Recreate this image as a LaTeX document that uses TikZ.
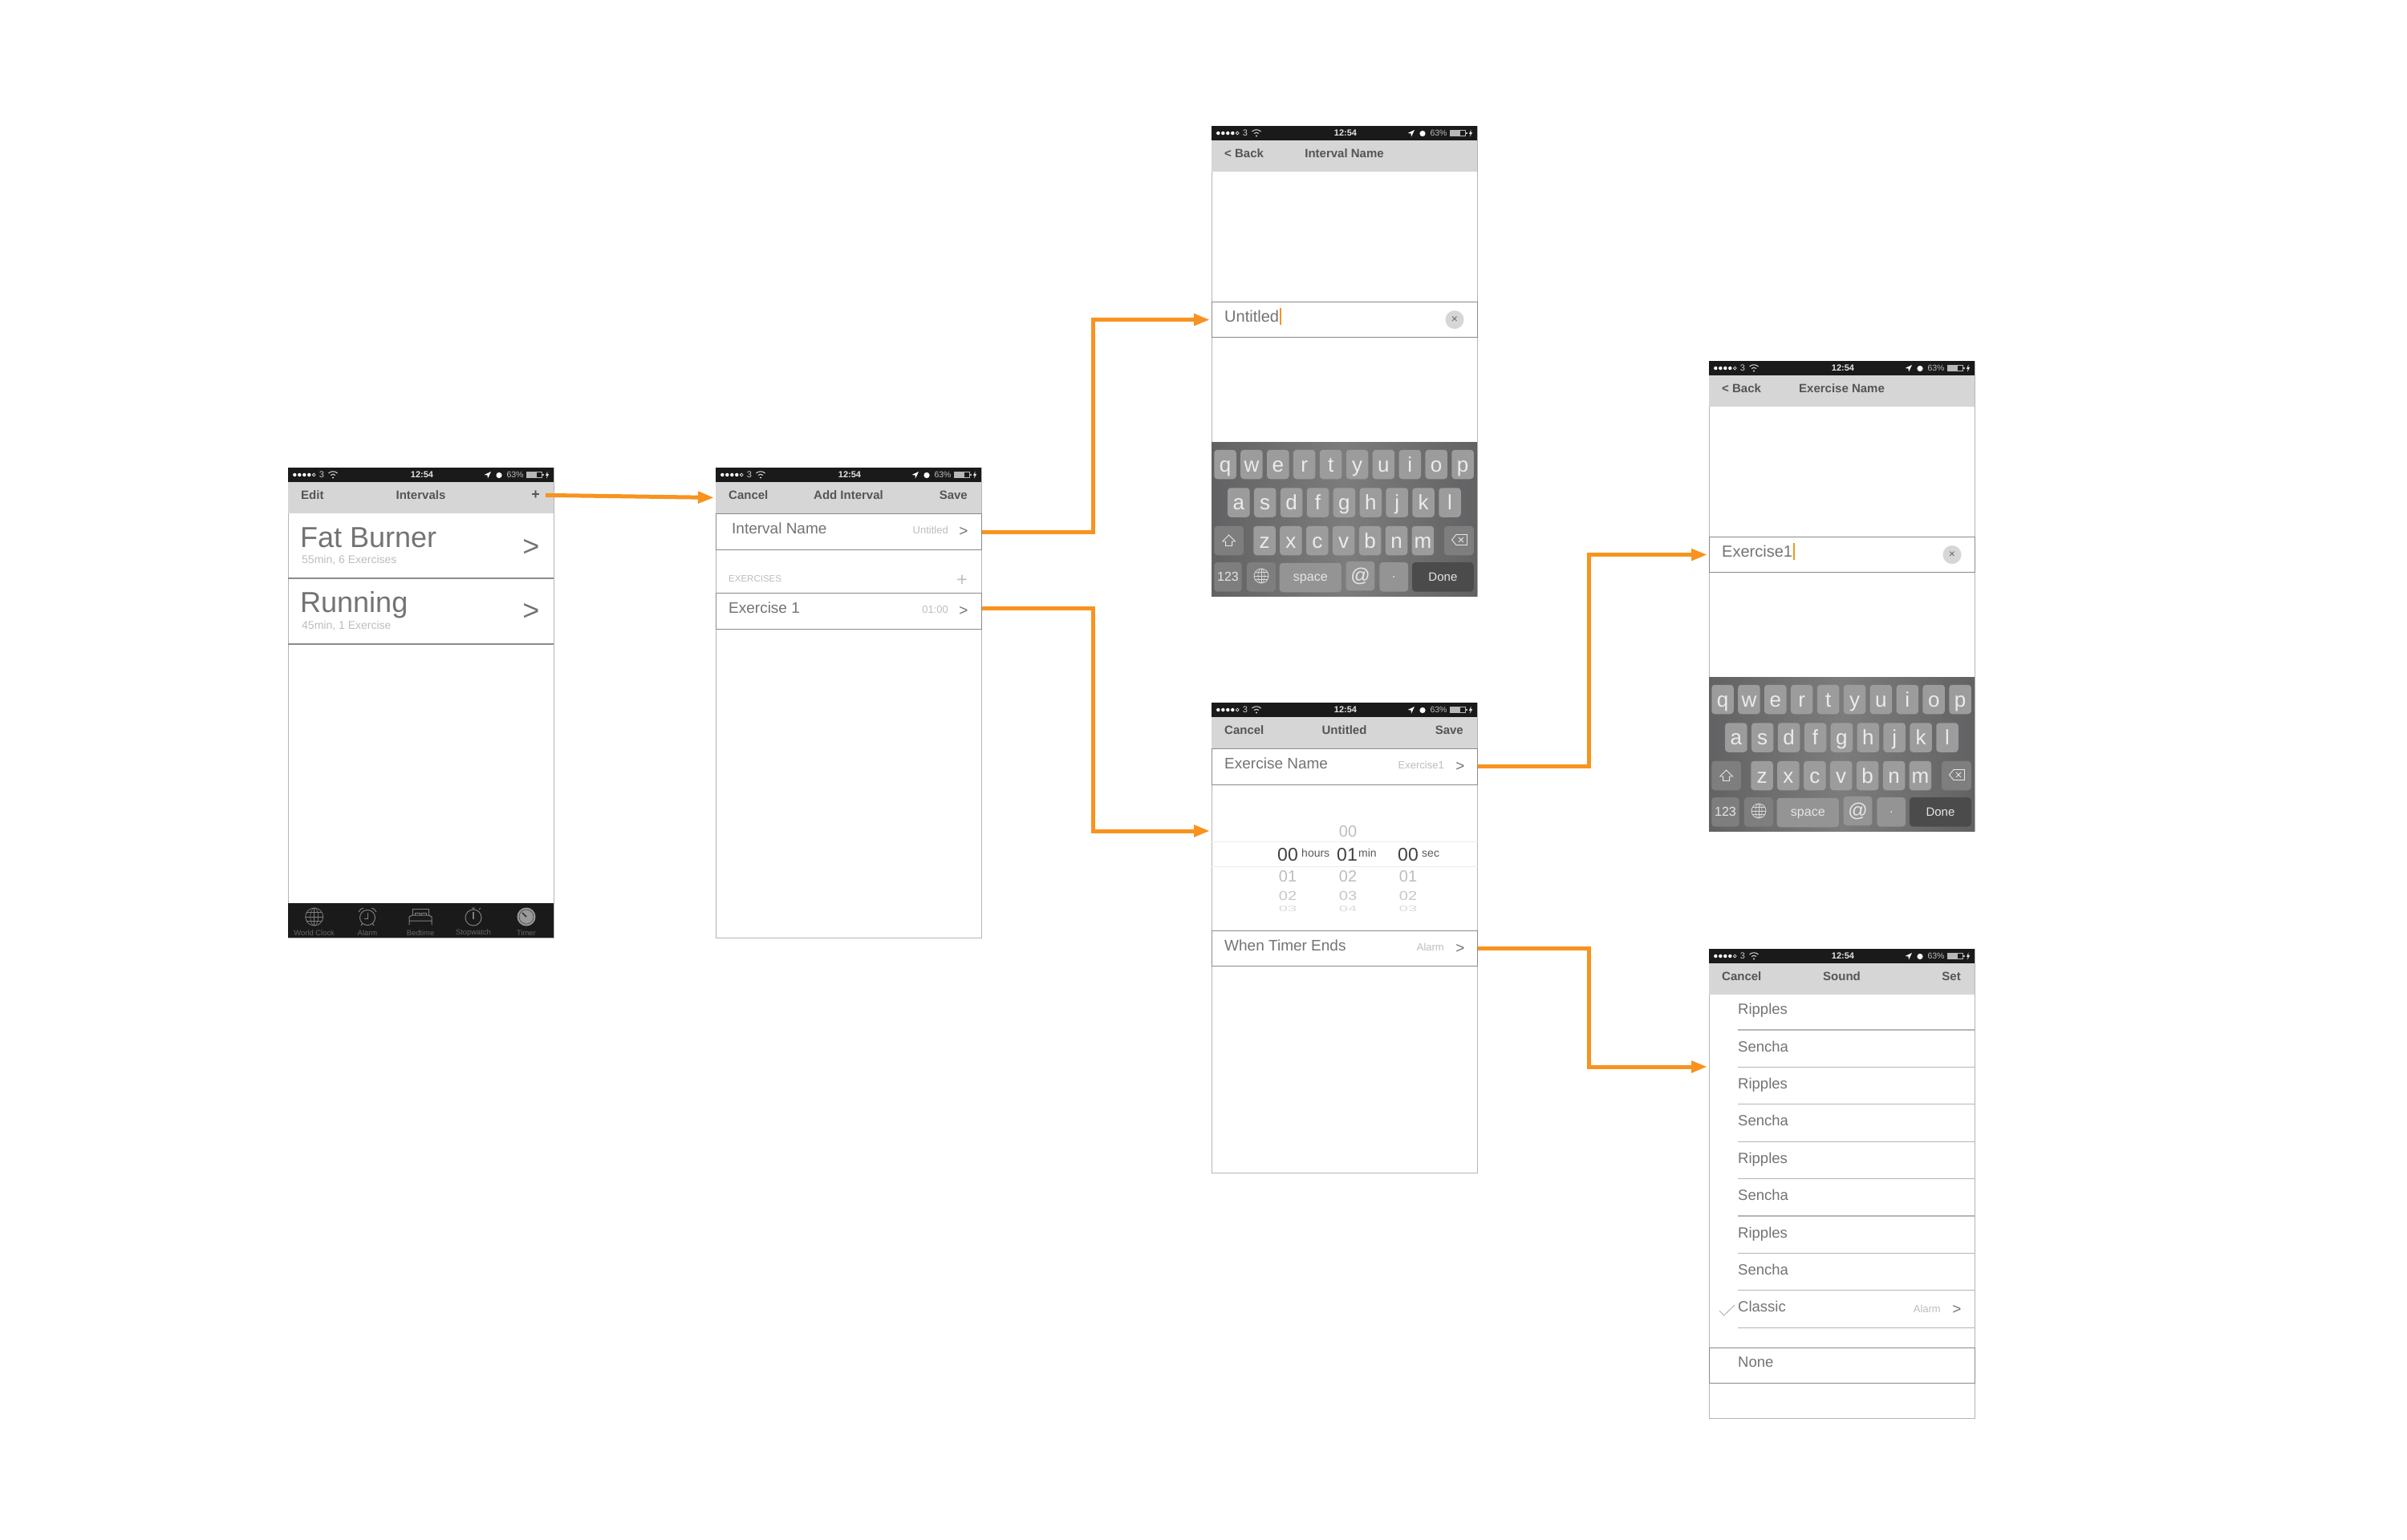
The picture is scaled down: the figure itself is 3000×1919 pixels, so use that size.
\documentclass[tikz,border=0pt]{standalone}
\usepackage{fontspec}
\setmainfont{Liberation Sans}
\usetikzlibrary{arrows.meta,
                positioning
            }

\definecolor{flow}{HTML}{F7931E}
\definecolor{barblack}{HTML}{1A1A1A}
\definecolor{navgray}{HTML}{D6D6D6}
\definecolor{navtext}{HTML}{555555}
\definecolor{framegray}{HTML}{B5B5B5}
\definecolor{rowline}{HTML}{8A8A8A}
\definecolor{rowtext}{HTML}{737373}
\definecolor{hinttext}{HTML}{BDBDBD}
\definecolor{tabgray}{HTML}{7F7F7F}
\definecolor{kbside}{HTML}{626264}
\definecolor{kbmid}{HTML}{7C7C7C}
\definecolor{keylight}{HTML}{9C9C9C}
\definecolor{keydark}{HTML}{7E7E7E}
\definecolor{keydone}{HTML}{4B4B4B}
\newcommand{\fsz}[1]{\fontsize{#1}{#1}\selectfont}

\tikzset{
    phone/.style={draw=framegray, line width=1.2, fill=white, anchor=north west, inner sep=0,
                  minimum width=331, minimum height=#1},
    band/.style={fill=#1, anchor=north west, inner sep=0, minimum width=331},
    rowbox/.style={draw=rowline, line width=1.2, fill=white, anchor=north west, inner sep=0,
                   minimum width=331, minimum height=#1},
    navlabel/.style={inner sep=0, text=navtext, font=\fsz{15}\bfseries},
    rowlabel/.style={inner sep=0, anchor=mid west, text=rowtext, font=\fsz{19}},
    rowvalue/.style={inner sep=0, anchor=mid east, text=hinttext, font=\fsz{13}},
    chev/.style={inner sep=0, text=rowtext, font=\fsz{#1}},
    caret/.style={fill=flow, inner sep=0, minimum width=2, minimum height=21},
    picknum/.style={inner sep=0, text=#1, font=\fsz{20}},
    pickmain/.style={inner sep=0, text=black!75, font=\fsz{23}},
    pickunit/.style={inner sep=0, anchor=mid west, text=black!65, font=\fsz{14}},
    tablabel/.style={inner sep=0, text=black!60, font=\fsz{9.4}},
    keycap/.style={fill=keylight, rounded corners=4, inner sep=0, minimum width=27.5,
                   minimum height=36.5, text=white!92!black, font=\fsz{26},
                   text height=22, text depth=4},
    wkey/.style={fill=#1, rounded corners=4, inner sep=0, minimum height=36.5,
                 text=white!90!black, font=\fsz{16}},
    flowarrow/.style={draw=flow, line width=5, -{Triangle[length=20pt,width=14pt]}, shorten >=2},
    pics/statusbar/.style={code={
        \node[band=barblack, minimum height=18] (-bar) at (0,0) {};
        \foreach \dotx in {8.3,14.3,20.3,26.3}
            \fill[white] (\dotx,9) circle[radius=2.2];
        \draw[white, line width=.6] (32.3,9) circle[radius=1.9];
        \node[inner sep=0, text=white!80!black, font=\fsz{11}] (-carrier) at (42,9) {3};
        \draw[white!85!black, line width=1] (50.5,7) .. controls (53.5,4) and (58.5,4) .. (61.5,7);
        \draw[white!85!black, line width=1] (53,9.5) .. controls (55,7.8) and (57,7.8) .. (59,9.5);
        \fill[white!85!black] (56,12.5) circle[radius=1.2];
        \node[inner sep=0, text=white!90!black, font=\fsz{11}\bfseries] (-time) at (167,9) {12:54};
        \fill[white] (244.5,9) -- (253,5) -- (249,13.5) -- (248.5,9.5) -- cycle;
        \fill[white] (263,9.5) circle[radius=3.6];
        \node[inner sep=0, text=white!75!black, font=\fsz{10.5}] (-level) at (283,9) {63\%};
        \fill[white!72!black] (297,5.5) rectangle (310,12.5);
        \draw[white!72!black, line width=.7] (297,5.5) rectangle (316,12.5);
        \fill[white!72!black] (317,7.8) rectangle (318.5,10.2);
        \fill[white!90!black] (323.5,4.5) -- (321,9.8) -- (322.7,9.8) -- (322,13.5) -- (325.2,8) -- (323.3,8) -- cycle;
    }},
    pics/navbar/.style n args={3}{code={
        \node[band=navgray, minimum height=38.5] (-bar) at (0,18) {};
        \node[navlabel, anchor=mid west] (-left) at (16,37) {#1};
        \node[navlabel, anchor=mid] (-title) at (165.5,37) {#2};
        \node[navlabel, anchor=mid east] (-right) at (314,37) {#3};
    }},
    pics/globeicon/.style={code={
        \draw[line width=.8] (0,0) circle[radius=10];
        \draw[line width=.6] (0,0) ellipse[x radius=4.5, y radius=10];
        \draw[line width=.6] (0,-10) -- (0,10) (-10,0) -- (10,0) (-8.7,-5) -- (8.7,-5) (-8.7,5) -- (8.7,5);
    }},
    pics/tabbar/.style={code={
        \node[band=barblack, minimum height=43] (-bar) at (0,0) {};
        \pic[color=tabgray, scale=1.1] (-world) at (32.7,17) {globeicon};
        \begin{scope}[shift={(99,17)}, tabgray, line width=1]
            \draw (0,1) circle[radius=9.5];
            \draw (0,-5) -- (0,2) -- (-4,2);
            \draw (-11,-6) -- (-8,-10) -- (-5,-10.5) (11,-6) -- (8,-10) -- (5,-10.5);
            \draw (-6,8) -- (-8,11) (6,8) -- (8,11);
        \end{scope}
        \begin{scope}[shift={(165,17)}, tabgray, line width=1]
            \draw (-10,-2) -- (-10,-10) -- (10,-10) -- (10,-2);
            \draw (-14,10) -- (-14,0) -- (-10,-2) -- (10,-2) -- (14,0) -- (14,10) (-14,5) -- (14,5);
            \draw (-7,-2) -- (-7,-5) -- (-1,-5) -- (-1,-2) (1,-2) -- (1,-5) -- (7,-5) -- (7,-2);
        \end{scope}
        \begin{scope}[shift={(231,17)}, tabgray, line width=1]
            \draw (0,1) circle[radius=10];
            \draw (0,-9) -- (0,-11) (-2,-11) -- (2,-11) (7,-9) -- (9,-11);
            \draw[line width=1.2] (0,-6) -- (0,3);
        \end{scope}
        \begin{scope}[shift={(297,17)}]
            \fill[black!40] (0,0) circle[radius=11.5];
            \draw[black!70, line width=.7] (0,0) circle[radius=9];
            \draw[barblack, line width=1.4] (0,0) -- (-5,-5);
        \end{scope}
        \node[tablabel] (-clock) at (32.7,37) {World Clock};
        \node[tablabel] (-alarm) at (99,37) {Alarm};
        \node[tablabel] (-bed) at (165,37) {Bedtime};
        \node[tablabel] (-watch) at (231,37) {Stopwatch};
        \node[tablabel] (-timer) at (297,37) {Timer};
    }},
    pics/keyboard/.style={code={
        \node[anchor=north west, inner sep=0, minimum width=331, minimum height=192,
              left color=kbside, right color=kbside, middle color=kbmid] (-base) at (0,0) {};
        \foreach \k [count=\i from 0] in {q,w,e,r,t,y,u,i,o,p}
            \node[keycap] (-\k) at ({17+\i*32.9},28) {\k};
        \foreach \k [count=\i from 0] in {a,s,d,f,g,h,j,k,l}
            \node[keycap] (-\k) at ({33.8+\i*32.9},75.5) {\k};
        \foreach \k [count=\i from 0] in {z,x,c,v,b,n,m}
            \node[keycap] (-\k) at ({66+\i*32.9},123) {\k};
        \node[wkey=keydark, minimum width=36.7] (-shift) at (21.6,123) {};
        \draw[white!90!black, line width=.9] (21.6,116) -- (29.5,124) -- (25.6,124) -- (25.6,129.5) -- (17.6,129.5) -- (17.6,124) -- (13.7,124) -- cycle;
        \node[wkey=keydark, minimum width=36.7] (-erase) at (308.4,123) {};
        \draw[white!90!black, line width=.9] (299.5,122) -- (305,115.5) -- (318.5,115.5) -- (318.5,128.5) -- (305,128.5) -- cycle;
        \draw[white!90!black, line width=.9] (308,119) -- (314,125) (314,119) -- (308,125);
        \node[wkey=keydark, minimum width=34.4] (-num) at (20.5,168.3) {123};
        \node[wkey=keydark, minimum width=36] (-lang) at (62,168.3) {};
        \pic[color=white!85!black, scale=.9] (-globe) at (62,167) {globeicon};
        \node[wkey=keylight!95!black, minimum width=77.3, text height=12, text depth=3] (-space) at (123.3,169) {space};
        \node[wkey=keylight!95!black, minimum width=35.6, font=\fsz{24}] (-at) at (185.5,167) {@};
        \node[wkey=keylight!95!black, minimum width=35.7] (-dot) at (227.2,168.3) {.};
        \node[wkey=keydone, minimum width=76.7, font=\fsz{15}] (-done) at (288.4,168.3) {Done};
    }}
}

\begin{document}
\begin{tikzpicture}[x=1pt, y=-1pt]
    \useasboundingbox[fill=white] (0,0) rectangle (3000,1919);

    % list of intervals
    \node[phone=586] (listphone) at (359,583) {};
    \pic (liststatus) at (listphone.north west) {statusbar};
    \pic (listnav) at (listphone.north west) {navbar={Edit}{Intervals}{\fsz{18}+}};
    \draw[rowline, line width=1.4] (359,721) -- (690,721) (359,803) -- (690,803);
    \node[inner sep=0, anchor=base west, text=rowtext, font=\fsz{36}] (fatburner) at (374,682) {Fat Burner};
    \node[inner sep=0, anchor=base west, text=hinttext, font=\fsz{14}] (fatinfo) at (376,702) {55min, 6 Exercises};
    \node[chev=36] (fatchev) at (662,683) {>};
    \node[inner sep=0, anchor=base west, text=rowtext, font=\fsz{36}] (running) at (374,763) {Running};
    \node[inner sep=0, anchor=base west, text=hinttext, font=\fsz{14}] (runinfo) at (376,784) {45min, 1 Exercise};
    \node[chev=36] (runchev) at (662,763) {>};
    \pic (listtabs) at (359,1126) {tabbar};

    % add interval
    \node[phone=586] (addphone) at (892,583) {};
    \pic (addstatus) at (addphone.north west) {statusbar};
    \pic (addnav) at (addphone.north west) {navbar={Cancel}{Add Interval}{Save}};
    \node[rowbox=45] (namerow) at (892,640) {};
    \node[rowlabel] (namelabel) at ([xshift=20]namerow.west) {Interval Name};
    \node[rowvalue] (namevalue) at ([xshift=290]namerow.west) {Untitled};
    \node[chev=19] (namechev) at ([xshift=309]namerow.west) {>};
    \node[inner sep=0, anchor=mid west, text=hinttext, font=\fsz{11.5}] (exhead) at (908,723) {EXERCISES};
    \node[inner sep=0, text=hinttext, font=\fsz{23}] (explus) at (1199,724) {+};
    \node[rowbox=45] (exrow) at (892,739) {};
    \node[rowlabel] (exlabel) at ([xshift=16]exrow.west) {Exercise 1};
    \node[rowvalue] (exvalue) at ([xshift=290]exrow.west) {01:00};
    \node[chev=19] (exchev) at ([xshift=309]exrow.west) {>};

    % interval name
    \node[phone=586] (intphone) at (1510,157) {};
    \pic (intstatus) at (intphone.north west) {statusbar};
    \pic (intnav) at (intphone.north west) {navbar={< Back}{Interval Name}{}};
    \node[rowbox=44] (intfield) at (1510,376) {};
    \node[rowlabel, font=\fsz{20}] (inttext) at ([xshift=16]intfield.west) {Untitled};
    \node[caret, right=1pt of inttext] (intcaret) {};
    \node[circle, fill=navgray, inner sep=0, minimum size=23, text=black!60, font=\fsz{14}] (intclear) at ([xshift=303]intfield.west) {×};
    \pic (intkeys) at (1510,551) {keyboard};

    % exercise
    \node[phone=586] (exphone) at (1510,876) {};
    \pic (exstatus) at (exphone.north west) {statusbar};
    \pic (exnav) at (exphone.north west) {navbar={Cancel}{Untitled}{Save}};
    \node[rowbox=45] (exnamerow) at (1510,933) {};
    \node[rowlabel] (exnamelabel) at ([xshift=16]exnamerow.west) {Exercise Name};
    \node[rowvalue] (exnamevalue) at ([xshift=290]exnamerow.west) {Exercise1};
    \node[chev=19] (exnamechev) at ([xshift=310]exnamerow.west) {>};
    \draw[black!8, line width=1] (exphone.west |- 0,1049) -- (exphone.east |- 0,1049) (exphone.west |- 0,1080) -- (exphone.east |- 0,1080);
    \node[picknum=hinttext] (pickzero) at (1680,1037) {00};
    \node[pickmain] (pickhours) at (1605,1066) {00};
    \node[pickunit] (hourslabel) at (1622,1066) {hours};
    \node[pickmain] (pickmins) at (1679,1066) {01};
    \node[pickunit] (minlabel) at (1693,1066) {min};
    \node[pickmain] (picksecs) at (1755,1066) {00};
    \node[pickunit] (seclabel) at (1772,1066) {sec};
    \foreach \px/\a/\b/\c in {1605/01/02/03, 1680/02/03/04, 1755/01/02/03} {
        \node[picknum=hinttext] (picka\px) at (\px,1093) {\a};
        \node[picknum=hinttext!85, yscale=.8] (pickb\px) at (\px,1117) {\b};
        \node[picknum=hinttext!55, yscale=.5] (pickc\px) at (\px,1133) {\c};
    }
    \node[rowbox=44] (timerrow) at (1510,1160) {};
    \node[rowlabel] (timerlabel) at ([xshift=16]timerrow.west) {When Timer Ends};
    \node[rowvalue] (timervalue) at ([xshift=290]timerrow.west) {Alarm};
    \node[chev=19] (timerchev) at ([xshift=310]timerrow.west) {>};

    % exercise name
    \node[phone=586] (namephone) at (2130,450) {};
    \pic (namestatus) at (namephone.north west) {statusbar};
    \pic (namenav) at (namephone.north west) {navbar={< Back}{Exercise Name}{}};
    \node[rowbox=44] (exfield) at (2130,669) {};
    \node[rowlabel, font=\fsz{20}] (extext) at ([xshift=16]exfield.west) {Exercise1};
    \node[caret, right=1pt of extext] (excaret) {};
    \node[circle, fill=navgray, inner sep=0, minimum size=23, text=black!60, font=\fsz{14}] (exclear) at ([xshift=303]exfield.west) {×};
    \pic (exkeys) at (2130,844) {keyboard};

    % sound
    \node[phone=585] (soundphone) at (2130,1183) {};
    \pic (soundstatus) at (soundphone.north west) {statusbar};
    \pic (soundnav) at (soundphone.north west) {navbar={Cancel}{Sound}{Set}};
    \foreach \sound [count=\i from 0] in {Ripples,Sencha,Ripples,Sencha,Ripples,Sencha,Ripples,Sencha,Classic} {
        \node[rowlabel, font=\fsz{18.5}] (sound\i) at (2166,{1262+\i*46.4}) {\sound};
        \draw[framegray, line width=1.2] (2166,{1284+\i*46.4}) -- (2461,{1284+\i*46.4});
    }
    \draw[black!35, line width=.8] (2143,1634) -- (2148.5,1640) -- (2162,1627);
    \node[rowvalue] (soundvalue) at (2419,1634) {Alarm};
    \node[chev=19] (soundchev) at (2439,1633) {>};
    \node[rowbox=44] (nonerow) at (2130,1680) {};
    \node[rowlabel, font=\fsz{18.5}] (nonelabel) at (2166,1702) {None};

    \coordinate (pickin) at (1510,1036);
    \coordinate (soundin) at (2130,1330);
    \draw[flowarrow] ([xshift=7]listnav-right.east) -- (addnav-bar.west);
    \draw[flowarrow] (namerow.east) -- ++(138,0) |- (intfield.west);
    \draw[flowarrow] ([yshift=4]exrow.east) -- ++(138,0) |- (pickin);
    \draw[flowarrow] ([yshift=1]exnamerow.east) -- ++(138,0) |- (exfield.west);
    \draw[flowarrow] (timerrow.east) -- ++(138,0) |- (soundin);
\end{tikzpicture}
\end{document}
